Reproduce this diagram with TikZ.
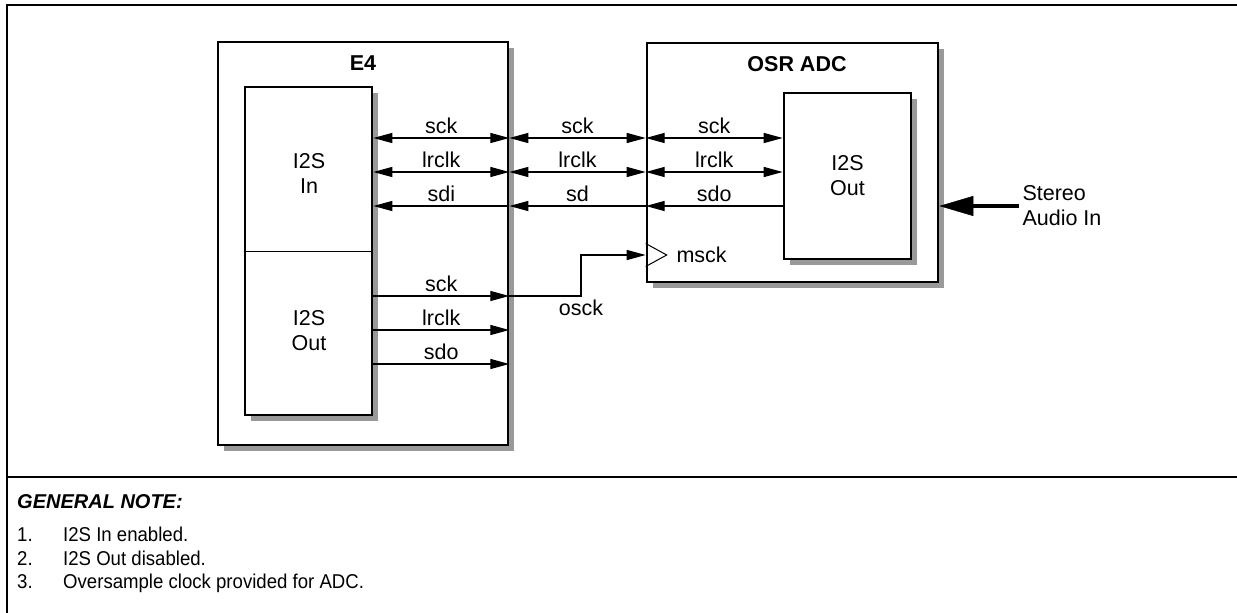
\documentclass[tikz,border=0pt]{standalone}
\usepackage{fontspec}
\setmainfont{Liberation Sans}
\newfontfamily\narrowsans[FakeStretch=0.93]{Liberation Sans}
\usetikzlibrary{
arrows.meta,
positioning,
shadows
}
\newcommand\sigfont{\fontsize{21.5}{25}\selectfont}
\newcommand\notefont{\fontsize{20}{23.5}\selectfont}

\begin{document}
\begin{tikzpicture}[
x=1pt,y=-1pt,
font=\sigfont,
blk/.style={
draw,
line width=2.6pt,
fill=white,
drop shadow={shadow xshift=6pt,shadow yshift=-6pt,fill=black!40,opacity=1}
},
title/.style={font=\sigfont\bfseries},
note/.style={font=\notefont\narrowsans,inner sep=0pt,anchor=base west},
sig/.style={line width=1.3pt},
tip/.style={-{Triangle[length=19pt,width=10pt]}},
both/.style={{Triangle[length=19pt,width=10pt]}-{Triangle[length=19pt,width=10pt]}}
]

\useasboundingbox (0,0) rectangle (1237,613);

\draw[line width=1.8pt] (1237,5) -- (7,5) -- (7,613);
\draw[line width=1.8pt] (7,477) -- (1237,477);

\node[blk,minimum width=290pt,minimum height=403pt] (e4) at (363,243.5) {};
\node[blk,minimum width=127pt,minimum height=328pt] (e4i2s) at (308.5,251) {};
\draw[line width=1pt] (e4i2s.west) -- (e4i2s.east);
\node[title] (e4title) at (363,63) {E4};
\node[align=center] (e4in) at (309,173) {I2S\\In};
\node[align=center] (e4out) at (309,331) {I2S\\Out};

\node[blk,minimum width=291pt,minimum height=239pt] (osr) at (792.5,162.5) {};
\node[blk,minimum width=127pt,minimum height=166pt,align=center] (osri2s) at (847.5,176) {I2S\\Out};
\node[title] (osrtitle) at (797,64) {OSR ADC};

\coordinate (r1) at (0,138);
\coordinate (r2) at (0,172);
\coordinate (r3) at (0,206);
\coordinate (r4) at (0,296);
\coordinate (r5) at (0,330);
\coordinate (r6) at (0,364);
\coordinate (r7) at (0,255);
\coordinate (kink) at (581,0);

\draw[sig,both] (e4i2s.east|-r1) -- node[above] {sck} (e4.east|-r1);
\draw[sig,both] (e4i2s.east|-r2) -- node[above] {lrclk} (e4.east|-r2);
\draw[sig,tip] (e4.east|-r3) -- node[above] {sdi} (e4i2s.east|-r3);

\draw[sig,both] (e4.east|-r1) -- node[above] {sck} (osr.west|-r1);
\draw[sig,both] (e4.east|-r2) -- node[above] {lrclk} (osr.west|-r2);
\draw[sig,tip] (osr.west|-r3) -- node[above] {sd} (e4.east|-r3);

\draw[sig,both] (osr.west|-r1) -- node[above] {sck} (osri2s.west|-r1);
\draw[sig,both] (osr.west|-r2) -- node[above] {lrclk} (osri2s.west|-r2);
\draw[sig,tip] (osri2s.west|-r3) -- node[above] {sdo} (osr.west|-r3);

\draw[sig,tip] (e4i2s.east|-r4) -- node[above] {sck} (e4.east|-r4);
\draw[sig,tip] (e4i2s.east|-r5) -- node[above] {lrclk} (e4.east|-r5);
\draw[sig,tip] (e4i2s.east|-r6) -- node[above] {sdo} (e4.east|-r6);

\draw[sig,tip] (e4.east|-r4) -| node[below] {osck} (kink|-r7) -- (osr.west|-r7);
\draw[line width=1pt] (osr.west|-r7) ++(0,-11.5) -- ++(21,11.5) -- ++(-21,11.5);
\node[anchor=west] (msck) at (673,255) {msck};

\node[anchor=west,align=left] (stereo) at (1019,206) {Stereo\\Audio In};
\draw[line width=4pt,-{Triangle[length=34pt,width=20pt,line width=0.5pt]}] (stereo.west) -- (osr.east|-stereo.west);

\node[note,font=\notefont\bfseries\itshape] (gnote) at (17,508) {GENERAL NOTE:};
\foreach \n/\txt in {1/I2S In enabled.,2/I2S Out disabled.,3/Oversample clock provided for ADC.}{
\node[note] (num\n) at (17,518+23.5*\n) {\n.};
\node[note] (txt\n) at (63,518+23.5*\n) {\txt};
}

\end{tikzpicture}
\end{document}
